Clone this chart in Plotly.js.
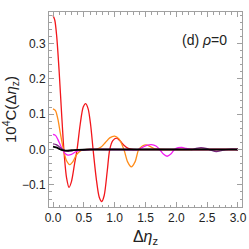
<!DOCTYPE html>
<html>
<head>
<meta charset="utf-8">
<script src="https://cdn.plot.ly/plotly-3.0.1.min.js"></script>
<style>html,body{margin:0;padding:0;background:#fff;}#plot{width:249px;height:249px;}</style>
</head>
<body>
<div id="plot"></div>
<script>
// Series (x = Δη_z, y = 10^4 C)
const redX = [0, 0.03, 0.06, 0.1, 0.14, 0.18, 0.22, 0.26, 0.30, 0.35, 0.39, 0.44, 0.49, 0.53, 0.57, 0.61, 0.65, 0.70, 0.75, 0.79, 0.83, 0.88, 0.92, 0.97, 1.03, 1.09, 1.15, 1.22, 1.30, 1.5, 2.0, 2.5, 3.0];
const redY = [0.38, 0.365, 0.32, 0.22, 0.10, -0.01, -0.08, -0.107, -0.09, -0.04, 0.0, 0.07, 0.12, 0.13, 0.115, 0.07, 0.0, -0.08, -0.135, -0.147, -0.13, -0.06, 0.0, 0.025, 0.032, 0.024, 0.012, 0.003, 0.0, 0, 0, 0, 0];

const orangeX = [0, 0.04, 0.08, 0.12, 0.17, 0.22, 0.27, 0.32, 0.38, 0.45, 0.52, 0.6, 0.7, 0.78, 0.85, 0.92, 1.0, 1.07, 1.15, 1.21, 1.27, 1.33, 1.39, 1.45, 1.51, 1.57, 1.65, 1.75, 2.0, 2.5, 3.0];
const orangeY = [0.115, 0.11, 0.085, 0.045, 0.0, -0.032, -0.043, -0.035, -0.015, -0.003, 0, 0, 0.001, 0.007, 0.02, 0.033, 0.038, 0.03, 0.0, -0.035, -0.049, -0.035, 0.0, 0.01, 0.013, 0.009, 0.002, 0, 0, 0, 0];

const magentaX = [0, 0.04, 0.08, 0.12, 0.16, 0.2, 0.24, 0.3, 0.36, 0.45, 0.6, 1.0, 1.38, 1.45, 1.52, 1.6, 1.67, 1.73, 1.79, 1.85, 1.91, 1.97, 2.03, 2.09, 2.16, 2.25, 2.5, 3.0];
const magentaY = [0.043, 0.04, 0.028, 0.012, -0.002, -0.012, -0.016, -0.014, -0.007, -0.002, 0, 0, 0, 0.006, 0.012, 0.014, 0.01, 0.0, -0.013, -0.019, -0.013, 0.0, 0.005, 0.006, 0.003, 0.0, 0, 0];

const purpleX = [0, 0.05, 0.1, 0.15, 0.2, 0.25, 0.32, 0.4, 0.6, 1.0, 2.0, 2.25, 2.32, 2.4, 2.48, 2.56, 2.65, 2.73, 2.8, 2.9, 3.0];
const purpleY = [0.016, 0.014, 0.008, 0.001, -0.004, -0.005, -0.003, -0.001, 0, 0, 0, 0, 0.003, 0.005, 0.003, -0.002, -0.006, -0.003, 0, 0.001, 0];

const blackX = [0, 0.05, 0.1, 0.15, 0.2, 0.3, 0.4, 0.6, 1, 2, 3];
const blackY = [0.008, 0.006, 0.002, -0.002, -0.003, -0.002, -0.001, 0, 0, 0, 0];

const xTickVals = [0, 0.5, 1, 1.5, 2, 2.5, 3];
const xTickText = ["0.0", "0.5", "1.0", "1.5", "2.0", "2.5", "3.0"];
const yTickVals = [-0.1, 0, 0.1, 0.2, 0.3];
const yTickText = ["\u22120.1", "0.0", "0.1", "0.2", "0.3"];

function tr(x, y, color, w) {
  return {x: x, y: y, type: 'scatter', mode: 'lines', line: {color: color, width: w, shape: 'spline', smoothing: 0.8}, hoverinfo: 'skip'};
}

const data = [
  tr(redX, redY, '#f2161b', 1.3),
  tr(orangeX, orangeY, '#ff8c1a', 1.3),
  tr(magentaX, magentaY, '#f21df2', 1.3),
  tr(purpleX, purpleY, '#7a2a80', 1.3),
  tr(blackX, blackY, '#000000', 1.8)
];

const axisCommon = {
  showgrid: false, zeroline: false, showline: true, linecolor: '#a0a0a0', linewidth: 1,
  mirror: 'ticks', ticks: 'inside', ticklen: 5, tickcolor: '#a0a0a0', tickwidth: 1,
  tickfont: {family: 'Liberation Sans, Arial, sans-serif', size: 12, color: '#222'}
};

const layout = {
  width: 249, height: 249,
  margin: {l: 49, r: 7, t: 12, b: 42},
  paper_bgcolor: '#fff', plot_bgcolor: '#fff',
  showlegend: false,
  xaxis: Object.assign({}, axisCommon, {
    range: [-0.065, 3.065], tickvals: xTickVals, ticktext: xTickText,
    minor: {dtick: 0.1, tick0: 0, ticks: 'inside', ticklen: 2.5, tickcolor: '#a0a0a0'},
    title: {text: '\u0394<i>\u03b7</i><sub>z</sub>', font: {family: 'Liberation Sans, Arial, sans-serif', size: 16, color: '#222'}, standoff: 6}
  }),
  yaxis: Object.assign({}, axisCommon, {
    range: [-0.1626, 0.389], tickvals: yTickVals, ticktext: yTickText,
    minor: {dtick: 0.02, tick0: 0, ticks: 'inside', ticklen: 2.5, tickcolor: '#a0a0a0'},
    title: {text: '10<sup>4</sup>C(\u0394<i>\u03b7</i><sub>z</sub>)', font: {family: 'Liberation Sans, Arial, sans-serif', size: 15, color: '#222'}, standoff: 4}
  }),
  annotations: [{
    x: 2.46, y: 0.31, xref: 'x', yref: 'y', showarrow: false,
    text: '(d) <i>\u03c1</i>=0', font: {family: 'Liberation Sans, Arial, sans-serif', size: 14, color: '#222'}
  }]
};

Plotly.newPlot('plot', data, layout, {staticPlot: true, displayModeBar: false});
</script>
</body>
</html>
